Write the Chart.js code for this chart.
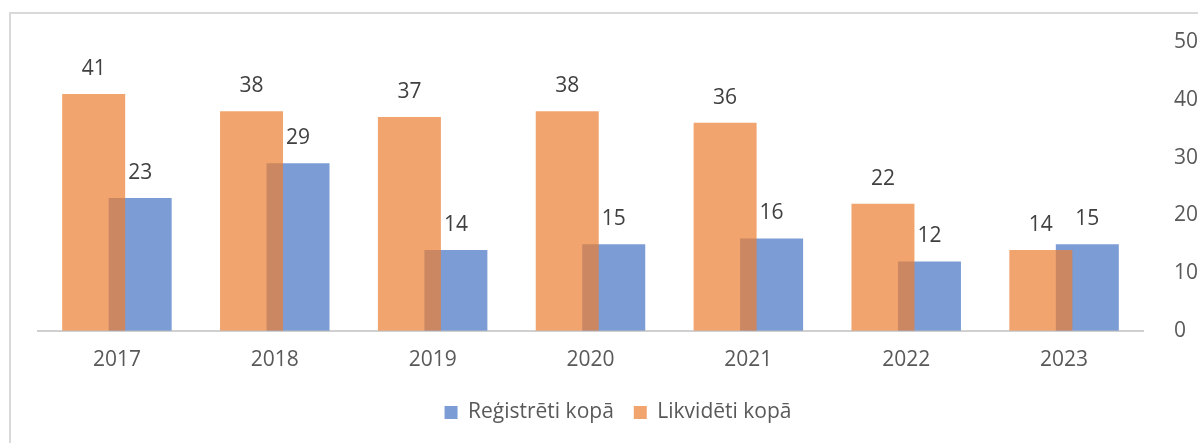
<!DOCTYPE html>
<html>
<head>
<meta charset="utf-8">
<script src="https://cdn.jsdelivr.net/npm/chart.js@4/dist/chart.umd.min.js"></script>
<style>
  html, body { margin: 0; padding: 0; background: #fff; }
  #wrap { position: relative; width: 1198px; height: 443px; overflow: hidden; }
  #frame {
    position: absolute; left: 9px; top: 12px; width: 1300px; height: 500px;
    border-left: 2px solid #d9d9d9; border-top: 2px solid #d9d9d9;
  }
  #chart { position: absolute; left: 0; top: 0; }
</style>
</head>
<body>
<div id="wrap">
  <div id="frame"></div>
  <canvas id="chart" width="1198" height="443"></canvas>
</div>
<script>
const years = ['2017', '2018', '2019', '2020', '2021', '2022', '2023'];
const registeredTotal = [23, 29, 14, 15, 16, 12, 15];   // Reģistrēti kopā
const liquidatedTotal = [41, 38, 37, 38, 36, 22, 14];   // Likvidēti kopā
const yTicks = [0, 10, 20, 30, 40, 50];

const FONT = "'Open Sans', sans-serif";

// draws the numbers above each bar
const valueLabels = {
    id: 'valueLabels',
    afterDatasetsDraw(chart) {
        const ctx = chart.ctx;
        ctx.save();
        ctx.font = `21px ${FONT}`;
        ctx.fillStyle = '#404040';
        ctx.textAlign = 'center';
        ctx.textBaseline = 'middle';
        chart.data.datasets.forEach((ds, i) => {
            const meta = chart.getDatasetMeta(i);
            meta.data.forEach((bar, j) => {
                ctx.fillText(ds.data[j], bar.x, bar.y - 25);
            });
        });
        ctx.restore();
    }
};

new Chart(document.getElementById('chart'), {
    type: 'bar',
    data: {
        labels: years,
        datasets: [
            {
                // first = left of the pair and drawn on top
                label: 'Likvidēti kopā',
                data: liquidatedTotal,
                backgroundColor: 'rgba(237, 125, 49, 0.7)',
                borderWidth: 0
            },
            {
                label: 'Reģistrēti kopā',
                data: registeredTotal,
                backgroundColor: 'rgba(68, 114, 196, 0.7)',
                borderWidth: 0
            }
        ]
    },
    options: {
        responsive: false,
        animation: false,
        categoryPercentage: 0.589,
        barPercentage: 1.355,
        layout: { padding: { left: 38, top: 42, right: 0, bottom: 10 } },
        scales: {
            x: {
                grid: { display: false },
                border: { color: '#d0d0d0', width: 2 },
                ticks: { color: '#595959', font: { family: FONT, size: 21 }, padding: 9 }
            },
            y: {
                position: 'right',
                min: 0,
                max: 50,
                afterBuildTicks: (scale) => { scale.ticks = yTicks.map(v => ({ value: v })); },
                afterFit: (scale) => { scale.width = 55; },
                grid: { display: false },
                border: { display: false },
                ticks: { color: '#595959', font: { family: FONT, size: 21 }, padding: 23 }
            }
        },
        plugins: {
            legend: {
                position: 'bottom',
                reverse: true,
                labels: {
                    color: '#595959',
                    font: { family: FONT, size: 21 },
                    boxWidth: 13,
                    boxHeight: 13,
                    padding: 20
                }
            },
            tooltip: { enabled: false }
        }
    },
    plugins: [valueLabels]
});
</script>
</body>
</html>
